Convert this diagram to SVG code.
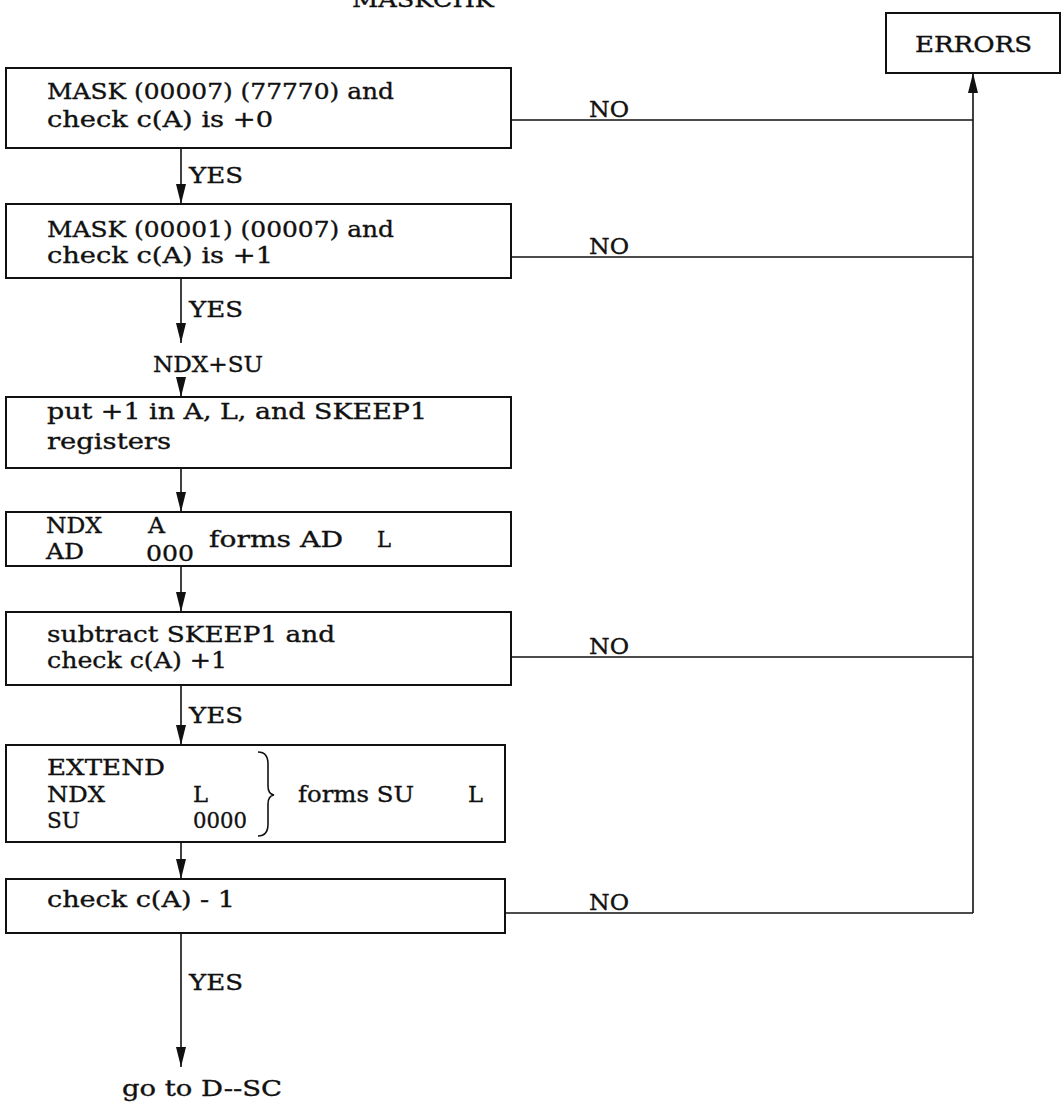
<svg xmlns="http://www.w3.org/2000/svg" width="1062" height="1105" viewBox="0 0 1062 1105">
<style>
.box{fill:#fff;stroke:#111;stroke-width:2}
.t{font-family:"DejaVu Serif","Liberation Serif",serif;font-size:22px;fill:#111;stroke:#111;stroke-width:0.35}
.ln{stroke:#111;stroke-width:1.6;fill:none}
</style>
<defs>
<marker id="ah" viewBox="0 0 20 10" refX="20" refY="5" markerWidth="20" markerHeight="10" markerUnits="userSpaceOnUse" orient="auto">
<path d="M0,0 L20,5 L0,10 Z" fill="#111"/>
</marker>
</defs>
<rect width="1062" height="1105" fill="#fff"/>
<text class="t" x="352" y="7" textLength="142" lengthAdjust="spacingAndGlyphs">MASKCHK</text>

<g id="errors">
<rect class="box" x="886" y="13" width="174" height="60"/>
<text class="t" x="915" y="52" textLength="117" lengthAdjust="spacingAndGlyphs">ERRORS</text>
</g>
<g id="n1">
<rect class="box" x="6" y="68" width="505" height="80"/>
<text class="t" x="47" y="99" textLength="347" lengthAdjust="spacingAndGlyphs">MASK (00007) (77770) and</text>
<text class="t" x="47" y="127" textLength="226" lengthAdjust="spacingAndGlyphs">check c(A) is +0</text>
</g>
<g id="n2">
<rect class="box" x="6" y="204" width="505" height="74"/>
<text class="t" x="47" y="237" textLength="347" lengthAdjust="spacingAndGlyphs">MASK (00001) (00007) and</text>
<text class="t" x="47" y="263" textLength="226" lengthAdjust="spacingAndGlyphs">check c(A) is +1</text>
</g>
<g id="ndxsu">
<text class="t" x="153" y="372" textLength="110" lengthAdjust="spacingAndGlyphs">NDX+SU</text>
</g>
<g id="n3">
<rect class="box" x="6" y="397" width="505" height="71"/>
<text class="t" x="47" y="419" textLength="380" lengthAdjust="spacingAndGlyphs">put +1 in A, L, and SKEEP1</text>
<text class="t" x="47" y="449" textLength="124" lengthAdjust="spacingAndGlyphs">registers</text>
</g>
<g id="n4">
<rect class="box" x="6" y="512" width="505" height="54"/>
<text class="t" x="46" y="533" textLength="56" lengthAdjust="spacingAndGlyphs">NDX</text>
<text class="t" x="148" y="533" textLength="17" lengthAdjust="spacingAndGlyphs">A</text>
<text class="t" x="46" y="559" textLength="38" lengthAdjust="spacingAndGlyphs">AD</text>
<text class="t" x="146" y="561" textLength="48" lengthAdjust="spacingAndGlyphs">000</text>
<text class="t" x="209" y="547" textLength="134" lengthAdjust="spacingAndGlyphs">forms AD</text>
<text class="t" x="377" y="547" textLength="14" lengthAdjust="spacingAndGlyphs">L</text>
</g>
<g id="n5">
<rect class="box" x="6" y="612" width="505" height="73"/>
<text class="t" x="47" y="642" textLength="288" lengthAdjust="spacingAndGlyphs">subtract SKEEP1 and</text>
<text class="t" x="47" y="668" textLength="180" lengthAdjust="spacingAndGlyphs">check c(A) +1</text>
</g>
<g id="n6">
<rect class="box" x="6" y="745" width="499" height="97"/>
<text class="t" x="47" y="775" textLength="118" lengthAdjust="spacingAndGlyphs">EXTEND</text>
<text class="t" x="47" y="802" textLength="58" lengthAdjust="spacingAndGlyphs">NDX</text>
<text class="t" x="193" y="802" textLength="15" lengthAdjust="spacingAndGlyphs">L</text>
<text class="t" x="47" y="828" textLength="33" lengthAdjust="spacingAndGlyphs">SU</text>
<text class="t" x="193" y="828" textLength="54" lengthAdjust="spacingAndGlyphs">0000</text>
<path class="ln" d="M258,752 Q268,752 268,764 L268,786 Q268,794 274,795 Q268,796 268,804 L268,824 Q268,836 258,836"/>
<text class="t" x="298" y="802" textLength="116" lengthAdjust="spacingAndGlyphs">forms SU</text>
<text class="t" x="468" y="802" textLength="15" lengthAdjust="spacingAndGlyphs">L</text>
</g>
<g id="n7">
<rect class="box" x="6" y="879" width="499" height="54"/>
<text class="t" x="47" y="907" textLength="188" lengthAdjust="spacingAndGlyphs">check c(A) - 1</text>
</g>
<g id="goto">
<text class="t" x="122" y="1096" textLength="160" lengthAdjust="spacingAndGlyphs">go to D--SC</text>
</g>

<g id="connectors">
<line class="ln" x1="181" y1="148" x2="181" y2="204" marker-end="url(#ah)"/>
<line class="ln" x1="181" y1="278" x2="181" y2="343" marker-end="url(#ah)"/>
<line class="ln" x1="181" y1="377" x2="181" y2="397" marker-end="url(#ah)"/>
<line class="ln" x1="181" y1="468" x2="181" y2="512" marker-end="url(#ah)"/>
<line class="ln" x1="181" y1="566" x2="181" y2="612" marker-end="url(#ah)"/>
<line class="ln" x1="181" y1="685" x2="181" y2="745" marker-end="url(#ah)"/>
<line class="ln" x1="181" y1="842" x2="181" y2="879" marker-end="url(#ah)"/>
<line class="ln" x1="181" y1="933" x2="181" y2="1067" marker-end="url(#ah)"/>
<line class="ln" x1="511" y1="120" x2="973" y2="120"/>
<line class="ln" x1="511" y1="257" x2="973" y2="257"/>
<line class="ln" x1="511" y1="657" x2="973" y2="657"/>
<line class="ln" x1="505" y1="913" x2="973" y2="913"/>
<line class="ln" x1="973" y1="913" x2="973" y2="73" marker-end="url(#ah)"/>
<text class="t" x="189" y="183" textLength="54" lengthAdjust="spacingAndGlyphs">YES</text>
<text class="t" x="189" y="317" textLength="54" lengthAdjust="spacingAndGlyphs">YES</text>
<text class="t" x="189" y="723" textLength="54" lengthAdjust="spacingAndGlyphs">YES</text>
<text class="t" x="189" y="990" textLength="54" lengthAdjust="spacingAndGlyphs">YES</text>
<text class="t" x="589" y="117" textLength="40" lengthAdjust="spacingAndGlyphs">NO</text>
<text class="t" x="589" y="254" textLength="40" lengthAdjust="spacingAndGlyphs">NO</text>
<text class="t" x="589" y="654" textLength="40" lengthAdjust="spacingAndGlyphs">NO</text>
<text class="t" x="589" y="910" textLength="40" lengthAdjust="spacingAndGlyphs">NO</text>
</g>
</svg>
